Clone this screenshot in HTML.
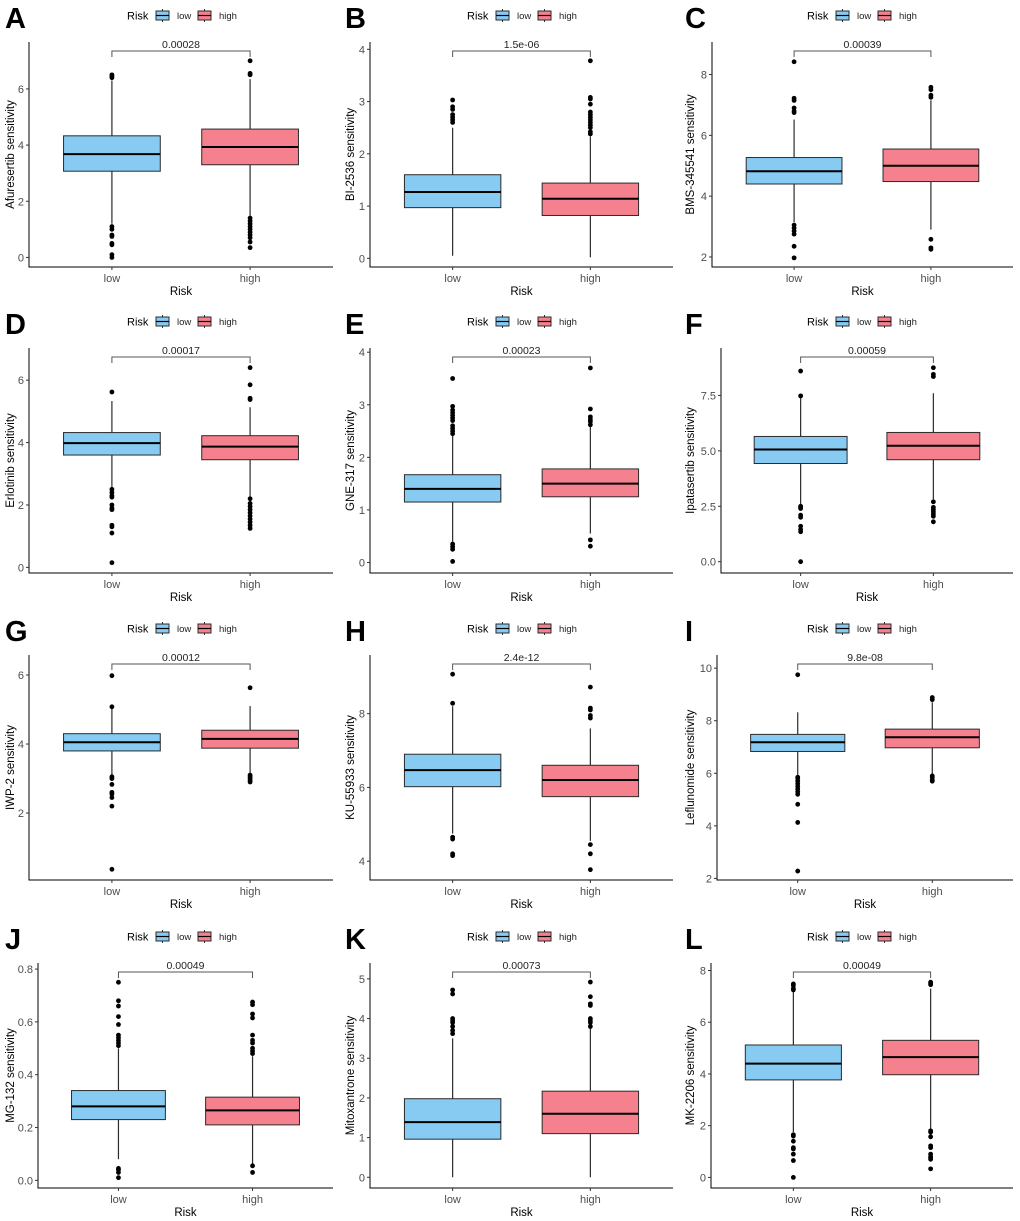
<!DOCTYPE html>
<html><head><meta charset="utf-8">
<style>
html,body{margin:0;padding:0;background:#fff;}
svg{display:block;font-family:"Liberation Sans",Arial,sans-serif;}
</style></head>
<body>
<svg id="fig" width="1020" height="1221" viewBox="0 0 1020 1221" xmlns="http://www.w3.org/2000/svg"></svg>
<script>
// ---- data ----
const panelLetters = ["A","B","C","D","E","F","G","H","I","J","K","L"];
const drugNames = ["Afuresertib","BI-2536","BMS-345541","Erlotinib","GNE-317","Ipatasertib","IWP-2","KU-55933","Leflunomide","MG-132","Mitoxantrone","MK-2206"];
const pValues = ["0.00028","1.5e-06","0.00039","0.00017","0.00023","0.00059","0.00012","2.4e-12","9.8e-08","0.00049","0.00073","0.00049"];
const yDomains = [[-0.34,7.67],[-0.166,4.14],[1.67,9.07],[-0.18,7.03],[-0.2,4.08],[-0.51,9.64],[0.06,6.58],[3.49,9.59],[1.94,10.5],[-0.029,0.823],[-0.27,5.4],[-0.41,8.29]];
const yTicks = [[0,2,4,6],[0,1,2,3,4],[2,4,6,8],[0,2,4,6],[0,1,2,3,4],[0,2.5,5,7.5],[2,4,6],[4,6,8],[2,4,6,8,10],[0,0.2,0.4,0.6,0.8],[0,1,2,3,4,5],[0,2,4,6,8]];
const tickDecimals = [0,0,0,0,0,1,0,0,0,1,0,0];
// box stats: [whiskerLow, q1, median, q3, whiskerHigh]
const lowStats = [[1.2,3.07,3.68,4.33,6.3],[0.05,0.97,1.27,1.6,2.5],[3.15,4.4,4.82,5.27,6.52],[2.55,3.6,3.98,4.32,5.33],[0.4,1.15,1.4,1.67,2.42],[2.55,4.43,5.06,5.65,7.4],[3.1,3.8,4.05,4.3,5.05],[4.75,6.02,6.47,6.9,8.2],[5.9,6.83,7.18,7.48,8.32],[0.08,0.23,0.28,0.34,0.5],[0.0,0.96,1.39,1.98,3.5],[1.75,3.77,4.4,5.12,7.3]];
const highStats = [[1.45,3.3,3.93,4.57,6.35],[0.02,0.82,1.14,1.44,2.33],[2.9,4.48,5.0,5.55,7.15],[2.2,3.45,3.87,4.22,5.13],[0.55,1.25,1.5,1.78,2.6],[2.75,4.6,5.23,5.83,7.6],[3.15,3.88,4.15,4.4,5.1],[4.55,5.75,6.2,6.6,7.6],[5.95,6.97,7.37,7.68,8.7],[0.06,0.21,0.265,0.315,0.47],[0.0,1.1,1.6,2.17,3.75],[1.85,3.97,4.65,5.3,7.3]];
const lowOutliers = [
 [6.5,6.45,6.4,1.1,1.0,0.8,0.75,0.5,0.45,0.1,0.0],
 [2.6,2.65,2.7,2.75,2.85,2.9,3.03],
 [8.42,7.22,7.15,6.9,6.8,6.75,3.05,2.95,2.85,2.75,2.35,1.97],
 [5.62,2.5,2.4,2.3,2.25,2.0,1.9,1.85,1.35,1.3,1.1,0.15],
 [2.45,2.5,2.55,2.6,2.7,2.75,2.8,2.85,2.9,2.97,3.5,0.35,0.3,0.25,0.02],
 [8.6,7.48,2.5,2.45,2.4,2.1,2.0,1.6,1.45,1.35,0.0],
 [5.98,5.08,3.05,3.0,2.83,2.6,2.55,2.45,2.2,0.37],
 [9.07,8.28,4.65,4.6,4.2,4.15],
 [9.75,5.85,5.8,5.7,5.6,5.5,5.4,5.3,5.2,4.82,4.13,2.28],
 [0.75,0.68,0.66,0.62,0.59,0.55,0.54,0.53,0.52,0.51,0.045,0.04,0.03,0.01],
 [4.72,4.62,4.0,3.95,3.9,3.8,3.7,3.62],
 [7.48,7.42,7.3,7.25,1.65,1.6,1.4,1.15,1.1,0.9,0.65,0.0]];
const highOutliers = [
 [7.0,6.55,6.5,1.4,1.3,1.2,1.1,1.0,0.9,0.8,0.7,0.55,0.35],
 [2.38,2.42,2.5,2.55,2.6,2.65,2.7,2.75,2.8,2.95,3.05,3.08,3.78],
 [7.58,7.5,7.32,7.25,2.58,2.3,2.25],
 [6.4,5.85,5.42,5.38,2.2,2.05,1.95,1.85,1.75,1.65,1.55,1.45,1.35,1.25],
 [2.62,2.68,2.72,2.77,2.92,3.7,0.43,0.31],
 [8.75,8.45,8.35,2.7,2.45,2.35,2.25,2.15,2.05,1.8],
 [5.63,3.1,3.05,3.0,2.95,2.9],
 [8.72,8.15,8.1,7.95,7.88,4.45,4.2,3.77],
 [8.88,8.8,5.9,5.85,5.75,5.7],
 [0.675,0.665,0.63,0.615,0.55,0.53,0.52,0.5,0.49,0.48,0.055,0.03],
 [4.92,4.55,4.37,4.33,4.0,3.95,3.9,3.8],
 [7.55,7.5,7.45,1.8,1.75,1.57,1.22,1.15,0.9,0.8,0.75,0.7,0.33]];
const groups = ["low","high"];

// ---- layout ----
const colX = [0,340,680];
const rowY = [0,306,613,921];
const axisLeft = [29,30,32,29,30,41,29,30,37,38,30,31];
const BLUE = "#87CAF2", RED = "#F5808E", EDGE = "#2b2b2b";
const NS = "http://www.w3.org/2000/svg";
const svg = document.getElementById("fig");
function mk(tag, attrs, parent){
  const e = document.createElementNS(NS, tag);
  for (const k in attrs) e.setAttribute(k, attrs[k]);
  (parent||svg).appendChild(e);
  return e;
}

for (let i=0;i<12;i++){
  const ox = colX[i%3], oy = rowY[Math.floor(i/3)];
  const g = mk("g", {});
  
  
  const L = ox + axisLeft[i], R = ox + 333, T = oy + 42, B = oy + 267;
  const [d0,d1] = yDomains[i];
  const y = v => B - (v - d0) / (d1 - d0) * (B - T);
  const xPos = k => L + (R - L) * (0.6 + k) / 2.2;
  const halfW = (R - L) * 0.35 / 2.2;

  // letter
  const let_ = mk("text", {x: ox+5, y: oy+28, "font-size": 29, "font-weight": "bold", fill: "#000"}, g);
  let_.textContent = panelLetters[i];
  
  

  // legend
  const lg = mk("g", {}, g);
  
  
  const lt = mk("text", {x: ox+127, y: oy+19.5, "font-size": 11, fill: "#000"}, lg);
  lt.textContent = "Risk";
  const keys = [[ox+156, BLUE, "low", ox+177],[ox+198, RED, "high", ox+219]];
  keys.forEach((k, ki) => {
    const kg = mk("g", {}, lg);
    
    
    mk("line", {x1: k[0]+6.5, x2: k[0]+6.5, y1: oy+9, y2: oy+22, stroke: EDGE, "stroke-width": 1}, kg);
    mk("rect", {x: k[0], y: oy+11, width: 13, height: 9, fill: k[1], stroke: EDGE, "stroke-width": 1}, kg);
    mk("line", {x1: k[0], x2: k[0]+13, y1: oy+15.5, y2: oy+15.5, stroke: "#000", "stroke-width": 1.2}, kg);
    const tx = mk("text", {x: k[3], y: oy+19, "font-size": 9.5, fill: "#222"}, kg);
    tx.textContent = k[2];
  });

  // axes
  const ax = mk("path", {d: `M${L},${T} V${B} H${R}`, fill: "none", stroke: "#000", "stroke-width": 1}, g);
  
  

  yTicks[i].forEach(t => {
    const yy = y(t);
    mk("line", {x1: L-3, x2: L, y1: yy, y2: yy, stroke: "#333", "stroke-width": 1}, g);
    const tl = mk("text", {x: L-5, y: yy+4, "font-size": 11, "text-anchor": "end", fill: "#4d4d4d"}, g);
    tl.textContent = t.toFixed(tickDecimals[i]);
    
    
  });
  groups.forEach((gr, k) => {
    const xx = xPos(k);
    mk("line", {x1: xx, x2: xx, y1: B, y2: B+3, stroke: "#333", "stroke-width": 1}, g);
    const xl = mk("text", {x: xx, y: B+15, "font-size": 11, "text-anchor": "middle", fill: "#4d4d4d"}, g);
    xl.textContent = gr;
    
    
  });
  const xt = mk("text", {x: (L+R)/2, y: B+28, "font-size": 11.5, "text-anchor": "middle", fill: "#000"}, g);
  xt.textContent = "Risk";
  
  
  const yt = mk("text", {x: 0, y: 0, "font-size": 11.5, "text-anchor": "middle", fill: "#000", transform: `translate(${ox+14},${(T+B)/2}) rotate(-90)`}, g);
  yt.textContent = drugNames[i] + " sensitivity";
  
  

  // boxes
  [[lowStats[i], lowOutliers[i], BLUE],[highStats[i], highOutliers[i], RED]].forEach((s, k) => {
    const [wl,q1,md,q3,wh] = s[0];
    const xx = xPos(k);
    const bg = mk("g", {}, g);
    
    
    mk("line", {x1: xx, x2: xx, y1: y(wh), y2: y(wl), stroke: EDGE, "stroke-width": 1.2}, bg);
    mk("rect", {x: xx-halfW, y: y(q3), width: 2*halfW, height: y(q1)-y(q3), fill: s[2], stroke: EDGE, "stroke-width": 1}, bg);
    mk("line", {x1: xx-halfW, x2: xx+halfW, y1: y(md), y2: y(md), stroke: "#000", "stroke-width": 2}, bg);
    s[1].forEach(v => {
      const c = mk("circle", {cx: xx, cy: y(v), r: 2.4, fill: "#000"}, bg);
      
      
    });
  });

  // significance bracket
  const x0 = xPos(0), x1 = xPos(1), by = T + 9;
  const br = mk("path", {d: `M${x0},${by+6} V${by} H${x1} V${by+6}`, fill: "none", stroke: "#555", "stroke-width": 1}, g);
  
  
  const pt = mk("text", {x: (x0+x1)/2, y: by-3, "font-size": 10.5, "text-anchor": "middle", fill: "#222"}, g);
  pt.textContent = pValues[i];
  
  
}
</script>
</body></html>
